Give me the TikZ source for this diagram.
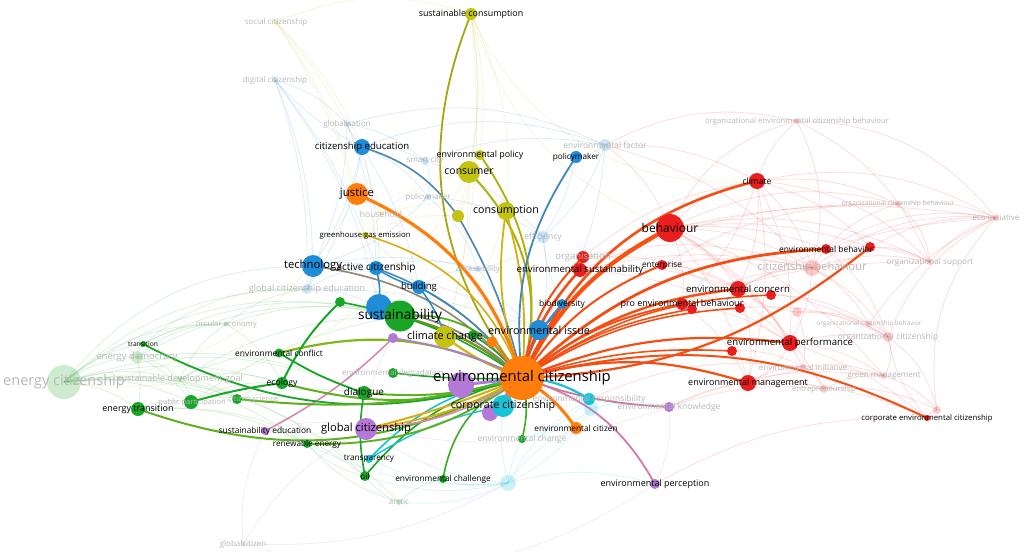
\documentclass[tikz,border=0pt]{standalone}
\usepackage{fontspec}
\setmainfont{Open Sans}
\definecolor{cO}{RGB}{255,125,10}
\definecolor{cG}{RGB}{25,165,40}
\definecolor{cB}{RGB}{30,140,215}
\definecolor{cY}{RGB}{195,195,20}
\definecolor{cR}{RGB}{235,30,30}
\definecolor{cP}{RGB}{180,120,215}
\definecolor{cC}{RGB}{25,195,215}
\tikzset{
  lab/.style={font=\fontsize{#1}{#1}\selectfont, inner sep=0pt, text=black},
  flab/.style={font=\fontsize{#1}{#1}\selectfont, inner sep=0pt, text=black!28},
  ed/.style={line width=#1pt, line cap=round},
  faint/.style={line width=0.8pt, opacity=0.15},
}
\newcommand\ND[3]{\fill[#3] (#1) circle (#2pt);}
\newcommand\FN[3]{\fill[#3, opacity=0.22] (#1) circle (#2pt);}
\begin{document}
\begin{tikzpicture}[x=1pt,y=-1pt]
\fill[white] (0,0) rectangle (1024,551);
\useasboundingbox (0,0) rectangle (1024,551);
% ---------- coordinates ----------
\coordinate (hub) at (522,378);
\coordinate (justice) at (357,194);
\coordinate (envcitizen) at (576,428);
\coordinate (orsmall) at (492,342);
\coordinate (sust) at (400,316);
\coordinate (bluesust) at (379,307);
\coordinate (climchange) at (445,337);
\coordinate (grsmall) at (473,335);
\coordinate (ecology) at (282,383);
\coordinate (dialogue) at (364,393);
\coordinate (envconflict) at (279,353);
\coordinate (entrans) at (138,409);
\coordinate (transition) at (143,344);
\coordinate (grA) at (191,402);
\coordinate (grB) at (237,399);
\coordinate (renew) at (307,444);
\coordinate (oil) at (365,476);
\coordinate (envchall) at (443,479);
\coordinate (envchange) at (522,439);
\coordinate (grC) at (340,302);
\coordinate (envdeg) at (393,373);
\coordinate (encit) at (64,382);
\coordinate (endem) at (137,357);
\coordinate (sdg) at (180,379);
\coordinate (circecon) at (226,324);
\coordinate (gce) at (307,289);
\coordinate (arctic) at (399,502);
\coordinate (globcit) at (366,429);
\coordinate (purA) at (490,413);
\coordinate (purB) at (461,385);
\coordinate (sustedu) at (265,431);
\coordinate (envperc) at (655,484);
\coordinate (envknow) at (669,407);
\coordinate (purC) at (393,338);
\coordinate (globalcitizen) at (243,544);
\coordinate (corpcit) at (503,406);
\coordinate (envresp) at (589,399);
\coordinate (transp) at (369,459);
\coordinate (cyA) at (508,483);
\coordinate (cyB) at (591,409);
\coordinate (tech) at (313,266);
\coordinate (citedu) at (362,147);
\coordinate (activecit) at (376,268);
\coordinate (building) at (419,287);
\coordinate (envissue) at (539,330);
\coordinate (biodiv) at (562,304);
\coordinate (policymaker) at (576,157);
\coordinate (globalisation) at (347,124);
\coordinate (digcit) at (275,80);
\coordinate (smartcity) at (425,161);
\coordinate (policyF) at (428,197);
\coordinate (envfactor) at (605,145);
\coordinate (efficiency) at (543,237);
\coordinate (access) at (478,269);
\coordinate (socialcit) at (276,22);
\coordinate (sustcons) at (471,14);
\coordinate (envpolicy) at (480,155);
\coordinate (consumer) at (469,172);
\coordinate (consumption) at (506,211);
\coordinate (yelA) at (458,216);
\coordinate (ghg) at (365,235);
\coordinate (household) at (381,214);
\coordinate (behaviour) at (670,228);
\coordinate (climate) at (757,181);
\coordinate (envsust) at (580,270);
\coordinate (organisation) at (583,257);
\coordinate (enterprise) at (662,265);
\coordinate (envbeh) at (826,249);
\coordinate (redX) at (870,247);
\coordinate (citbeh) at (812,268);
\coordinate (orgsupport) at (930,262);
\coordinate (ecoinit) at (996,218);
\coordinate (ocb) at (898,204);
\coordinate (oecb) at (797,121);
\coordinate (proenv) at (682,304);
\coordinate (redB) at (692,309);
\coordinate (redC) at (740,308);
\coordinate (envconcern) at (738,289);
\coordinate (redD) at (771,295);
\coordinate (envperf) at (790,343);
\coordinate (redE) at (732,351);
\coordinate (envmgmt) at (748,383);
\coordinate (corpenvcit) at (927,418);
\coordinate (ocbr) at (869,324);
\coordinate (orgcit) at (888,337);
\coordinate (envinit) at (803,367);
\coordinate (greenmgmt) at (884,376);
\coordinate (entrep) at (824,389);
\coordinate (rfA) at (937,410);
\coordinate (rfB) at (797,312);
% ---------- faint background edges ----------
\foreach \a/\b/\c in {behaviour/climate/20,behaviour/oecb/25,behaviour/citbeh/15,behaviour/ocb/20,behaviour/orgsupport/18,behaviour/envbeh/12,climate/oecb/15,climate/ocb/15,climate/ecoinit/20,climate/citbeh/15,climate/orgsupport/20,citbeh/ocb/20,citbeh/orgsupport/15,citbeh/ecoinit/20,citbeh/ocbr/15,citbeh/orgcit/15,citbeh/envperf/12,ocb/ecoinit/15,ocb/orgsupport/20,orgsupport/ecoinit/15,orgcit/ecoinit/20,orgcit/greenmgmt/25,orgcit/rfA/20,ocbr/orgcit/20,envinit/greenmgmt/15,envinit/entrep/20,entrep/greenmgmt/15,envperf/orgcit/10,envmgmt/greenmgmt/15,envmgmt/entrep/15,envconcern/citbeh/15,proenv/citbeh/12,proenv/orgsupport/10,enterprise/ocb/15,enterprise/citbeh/10,envsust/citbeh/12,envsust/ocb/12,organisation/climate/15,envconcern/ecoinit/12,oecb/ecoinit/25,oecb/orgsupport/20,oecb/citbeh/20,envbeh/ecoinit/20,redX/ecoinit/15,rfA/ecoinit/25,corpenvcit/orgcit/15,corpenvcit/rfA/20,behaviour/envinit/15,behaviour/entrep/12,behaviour/greenmgmt/15,climate/envperf/15,rfB/orgcit/15,rfB/ocbr/12,envfactor/behaviour/15,envfactor/climate/15,envfactor/oecb/20,envfactor/citbeh/15,envknow/entrep/12,envknow/greenmgmt/15,envresp/envinit/15,envperc/corpenvcit/15,behaviour/envconcern/15,behaviour/proenv/15,behaviour/envperf/15,behaviour/envmgmt/12,behaviour/redX/12,behaviour/ecoinit/10,climate/envconcern/15,climate/proenv/12,climate/redX/15,climate/envmgmt/12,envconcern/envperf/15,envconcern/orgcit/12,envconcern/envmgmt/15,proenv/envperf/12,proenv/envmgmt/15,envperf/envmgmt/20,envperf/greenmgmt/15,envperf/corpenvcit/10,envmgmt/corpenvcit/12,redX/orgsupport/15,redX/citbeh/15,enterprise/envconcern/15,enterprise/envperf/15,envsust/envperf/15,envsust/envconcern/12,organisation/citbeh/15,organisation/envconcern/15,rfB/envconcern/15,rfB/envinit/15,ocbr/ecoinit/15,envbeh/orgcit/15,envbeh/orgsupport/15,redD/ocbr/15,redC/orgcit/15,redE/envinit/15,entrep/rfA/15,greenmgmt/rfA/15,envmgmt/envinit/15,envknow/envmgmt/10}
  \draw[faint, cR] (\a) to[bend left=\c] (\b);
\foreach \a/\b/\c in {citedu/digcit/10,citedu/globalisation/10,citedu/smartcity/15,citedu/policyF/15,citedu/gce/12,citedu/tech/10,digcit/tech/10,digcit/globalisation/15,digcit/gce/10,globalisation/tech/12,globalisation/smartcity/15,smartcity/policyF/20,smartcity/envfactor/15,policyF/efficiency/15,policyF/access/15,envfactor/policymaker/15,envfactor/efficiency/15,efficiency/access/15,efficiency/envissue/12,tech/gce/15,tech/activecit/15,tech/access/12,gce/activecit/15,gce/bluesust/12,activecit/access/15,building/access/15,citedu/envfactor/20,globalisation/envfactor/20,digcit/bluesust/12,policymaker/efficiency/10,biodiv/efficiency/10,envissue/access/10,citedu/bluesust/8,citedu/building/10,globalisation/activecit/10,smartcity/efficiency/15,policyF/tech/15,envfactor/envissue/15,digcit/activecit/10,tech/envissue/12,gce/envissue/10}
  \draw[faint, cB] (\a) to[bend left=\c] (\b);
\foreach \a/\b/\c in {encit/endem/15,encit/sdg/15,encit/transition/15,encit/entrans/15,encit/grA/15,encit/grB/15,encit/circecon/20,encit/gce/20,encit/ecology/15,encit/renew/20,encit/oil/25,encit/arctic/25,endem/sdg/15,endem/transition/15,endem/grA/15,endem/circecon/20,endem/entrans/10,sdg/grA/15,sdg/grB/15,sdg/circecon/15,sdg/ecology/15,transition/circecon/15,transition/gce/20,entrans/grA/15,entrans/renew/15,grA/grB/15,grA/ecology/15,grB/ecology/15,circecon/gce/15,circecon/ecology/15,arctic/oil/15,arctic/renew/15,arctic/envchall/15,oil/renew/15,encit/tech/25,encit/sust/25,endem/sust/20,sdg/sust/15,circecon/sust/15,encit/dialogue/20,endem/dialogue/15,sdg/envconflict/12,transition/sust/20,grA/sust/12,grB/dialogue/10,sustedu/renew/12,entrans/oil/20}
  \draw[faint, cG] (\a) to[bend left=\c] (\b);
\foreach \a/\b/\c in {socialcit/citedu/10,socialcit/justice/10,socialcit/household/12,socialcit/sustcons/20,socialcit/ghg/10,sustcons/consumer/10,sustcons/envpolicy/10,sustcons/consumption/15,sustcons/climate/-35,sustcons/behaviour/-25,household/ghg/15,household/consumer/15,household/consumption/15,ghg/climchange/15,ghg/yelA/15,justice/household/15,encit/justice/-30,encit/consumer/-35,consumer/yelA/15,consumption/climchange/10,envpolicy/consumption/15,sustcons/yelA/12,sustcons/climchange/10,consumer/climchange/8}
  \draw[faint, cY] (\a) to[bend left=\c] (\b);
\foreach \a/\b/\c in {cyA/transp/15,cyA/envchall/15,cyA/envchange/10,cyA/envresp/15,cyA/corpcit/10,cyA/envcitizen/15,cyA/oil/15,cyA/arctic/15,cyA/envperc/15,cyB/envresp/10,cyB/envchange/15,cyB/cyA/15,cyB/envknow/15,envresp/envchange/15,cyA/globcit/15,cyA/renew/15}
  \draw[faint, cC] (\a) to[bend left=\c] (\b);
\foreach \a/\b/\c in {globalcitizen/sustedu/15,globalcitizen/globcit/15,globalcitizen/envperc/-25,globalcitizen/cyA/-15,globcit/envknow/-15,sustedu/globcit/15,envknow/envperc/15,globcit/purC/15}
  \draw[faint, cP] (\a) to[bend left=\c] (\b);
% ---------- strong edges ----------
\draw[ed=1.6, cB!55!gray] (citedu) to[bend left=18] (yelA);
\draw[ed=1.6, cB!55!gray] (yelA) to[bend left=8] (hub);
\draw[ed=1.8, cY!85!black] (hub) to[bend left=30] (sustcons);
\draw[ed=2.0, cY!90!black] (hub) to[bend right=30] (consumer);
\draw[ed=1.8, cY!90!black] (hub) to[bend right=24] (envpolicy);
\draw[ed=1.8, cY!80!cO] (hub) to[bend left=14] (consumption);
\draw[ed=1.8, cY!70!cO] (hub) to[bend right=10] (consumption);
\draw[ed=1.8, cB!65!gray] (hub) to[bend left=20] (policymaker);
\draw[ed=3.2, cO] (hub) to[bend right=24] (justice);
\draw[ed=1.6, cY!70!cO] (hub) to[bend right=26] (ghg);
\draw[ed=1.6, cB!50!cO] (hub) to[bend right=20] (tech);
\draw[ed=1.5, cB!55!gray] (hub) to[bend right=16] (activecit);
\draw[ed=1.5, cB!55!gray] (hub) to[bend right=12] (building);
\draw[ed=1.5, cB] (activecit) to[bend right=10] (building);
\draw[ed=1.5, cB] (activecit) to[bend left=10] (bluesust);
\draw[ed=1.5, cB] (building) to[bend left=10] (climchange);
\draw[ed=2.4, cG!60!cO] (hub) to[bend right=12] (sust);
\draw[ed=1.8, cG!70!cY] (sust) to[bend left=20] (orsmall);
\draw[ed=1.8, cB!55!cO] (hub) to[bend right=16] (bluesust);
\draw[ed=2.2, cY!75!cO] (hub) to[bend left=8] (climchange);
\draw[ed=1.6, cG] (hub) to[bend right=8] (grsmall);
\draw[ed=2.2, cO] (hub) to (orsmall);
\draw[ed=2.6, cB!80!cO] (hub) to[bend left=8] (envissue);
\draw[ed=1.6, cB!80!gray] (envissue) to[bend right=10] (biodiv);
\draw[ed=1.4, cB!80!gray] (hub) to[bend left=14] (biodiv);
% red side
\draw[ed=4.2, cR!45!cO] (hub) to[bend left=18] (behaviour);
\draw[ed=2.6, cR!50!cO] (hub) to[bend left=26] (climate);
\draw[ed=2.6, cR!50!cO] (hub) to[bend left=14] (envsust);
\draw[ed=2.0, cR!50!cO] (hub) to[bend left=18] (organisation);
\draw[ed=2.0, cR!50!cO] (envsust) to (organisation);
\draw[ed=2.0, cR!50!cO] (hub) to[bend left=16] (enterprise);
\draw[ed=2.8, cR!50!cO] (hub) to[bend left=20] (envbeh);
\draw[ed=2.2, cR!50!cO] (hub) to[bend right=18] (redX);
\draw[ed=2.0, cR!50!cO] (hub) to[bend left=14] (proenv);
\draw[ed=1.6, cR!50!cO] (hub) to[bend left=12] (redB);
\draw[ed=1.6, cR!50!cO] (hub) to[bend left=14] (redC);
\draw[ed=2.4, cR!50!cO] (hub) to[bend left=16] (envconcern);
\draw[ed=1.6, cR!50!cO] (hub) to[bend left=16] (redD);
\draw[ed=2.2, cR!50!cO] (hub) to[bend left=14] (envperf);
\draw[ed=1.6, cR!50!cO] (hub) to[bend left=10] (redE);
\draw[ed=2.2, cR!50!cO] (hub) to[bend left=16] (envmgmt);
\draw[ed=2.0, cR!50!cO] (hub) to[bend left=20] (corpenvcit);
\draw[ed=1.8, cR!35!cP!80!white] (hub) to[bend left=22] (envperc);
\draw[ed=1.8, cP!70!cO] (hub) to[bend right=8] (envknow);
\draw[ed=3.0, cO] (hub) to[bend left=12] (envcitizen);
\draw[ed=3.2, cC!55!cO] (hub) to (corpcit);
\draw[ed=2.2, cC] (hub) to[bend left=14] (envresp);
% lower / left side
\draw[ed=1.6, cG!80!cY] (hub) to[bend right=28] (envchall);
\draw[ed=1.6, cG!80!cY] (hub) to[bend left=14] (envchange);
\draw[ed=1.6, cG] (hub) to[bend right=18] (oil);
\draw[ed=1.6, cC] (hub) to[bend right=18] (transp);
\draw[ed=1.4, cC] (transp) to[bend left=10] (corpcit);
\draw[ed=1.9, cG!60!cY] (hub) to[bend left=18] (renew);
\draw[ed=2.0, cG!60!cY] (hub) to[bend left=24] (entrans);
\draw[ed=1.8, cY!70!cO] (hub) to[bend left=10] (globcit);
\draw[ed=2.0, cY!70!cO] (hub) to[bend left=4] (globcit);
\draw[ed=3.0, cP] (hub) to (purA);
\draw[ed=3.0, cP] (hub) to (purB);
\draw[ed=1.6, cP!70!red!70!white] (sustedu) to[bend right=8] (purC);
\draw[ed=1.6, cP!70!red!70!white] (globcit) to[bend right=14] (hub);
\draw[ed=2.0, cG!60!cY] (hub) to[bend left=10] (dialogue);
\draw[ed=2.0, cG!60!cY] (hub) to[bend left=16] (ecology);
\draw[ed=2.2, cY!60!cG] (hub) to[bend right=20] (envconflict);
\draw[ed=1.8, cG] (envconflict) to[bend right=6] (dialogue);
\draw[ed=1.8, cG] (hub) to[bend left=22] (transition);
\draw[ed=2.0, cG] (grA) to[bend left=4] (ecology);
\draw[ed=2.0, cG] (ecology) to[bend left=10] (grC);
\draw[ed=2.0, cG!60!cY] (hub) to[bend left=10] (grB);
\draw[ed=1.6, cG] (hub) to[bend right=12] (grC);
\draw[ed=1.6, cG] (hub) to[bend left=4] (envdeg);
\draw[ed=1.6, cP] (hub) to[bend right=8] (purC);
\draw[ed=1.6, cG] (oil) to[bend left=10] (dialogue);
% ---------- faded nodes ----------
\FN{encit}{17}{cG}
\FN{endem}{6}{cG}
\FN{sdg}{3}{cG}
\FN{circecon}{2.5}{cG}
\FN{gce}{5}{cB}
\FN{arctic}{3}{cG}
\FN{globalcitizen}{2.5}{cP}
\FN{cyA}{8}{cC}
\FN{cyB}{7}{cC}
\FN{globalisation}{3}{cB}
\FN{digcit}{3}{cB}
\FN{smartcity}{4}{cB}
\FN{policyF}{3}{cB}
\FN{envfactor}{6}{cB}
\FN{efficiency}{6}{cB}
\FN{access}{3}{cB}
\FN{socialcit}{3}{cY}
\FN{household}{3}{cY}
\FN{citbeh}{8}{cR}
\FN{orgsupport}{3}{cR}
\FN{ecoinit}{3}{cR}
\FN{ocb}{3}{cR}
\FN{oecb}{3}{cR}
\FN{ocbr}{3}{cR}
\FN{orgcit}{5}{cR}
\FN{envinit}{3}{cR}
\FN{greenmgmt}{3}{cR}
\FN{entrep}{4}{cR}
\FN{rfA}{4}{cR}
\FN{rfB}{5}{cR}
% ---------- strong nodes ----------
\ND{hub}{22}{cO}
\ND{justice}{11}{cO}
\ND{envcitizen}{6}{cO}
\ND{orsmall}{5.5}{cO}
\ND{bluesust}{13}{cB}
\ND{sust}{15.5}{cG}
\ND{climchange}{11}{cY}
\ND{grsmall}{5}{cG}
\ND{ecology}{6}{cG}
\ND{dialogue}{7}{cG}
\ND{envconflict}{4.5}{cG}
\ND{entrans}{7}{cG}
\ND{transition}{3}{cG}
\ND{grA}{7}{cG}
\ND{grB}{5}{cG}
\ND{renew}{4}{cG}
\ND{oil}{5}{cG}
\ND{envchall}{4}{cG}
\ND{envchange}{4}{cG}
\ND{grC}{5}{cG}
\ND{envdeg}{5}{cG}
\ND{globcit}{11}{cP}
\ND{purB}{13}{cP}
\ND{purA}{8}{cP}
\ND{sustedu}{4}{cP}
\ND{envperc}{5}{cP}
\ND{envknow}{5}{cP}
\ND{purC}{5}{cP}
\ND{corpcit}{11}{cC}
\ND{envresp}{6}{cC}
\ND{transp}{4}{cC}
\ND{tech}{11}{cB}
\ND{citedu}{8}{cB}
\ND{activecit}{7}{cB}
\ND{building}{7}{cB}
\ND{envissue}{10}{cB}
\ND{biodiv}{5}{cB}
\ND{policymaker}{6}{cB}
\ND{sustcons}{6}{cY}
\ND{envpolicy}{5}{cY}
\ND{consumer}{11}{cY}
\ND{consumption}{9}{cY}
\ND{yelA}{6}{cY}
\ND{ghg}{3}{cY}
\ND{behaviour}{14}{cR}
\ND{climate}{8}{cR}
\ND{envsust}{7}{cR}
\ND{organisation}{6}{cR}
\ND{enterprise}{5}{cR}
\ND{envbeh}{5}{cR}
\ND{redX}{5}{cR}
\ND{proenv}{6}{cR}
\ND{redB}{5}{cR}
\ND{redC}{5}{cR}
\ND{envconcern}{8}{cR}
\ND{redD}{5}{cR}
\ND{envperf}{8}{cR}
\ND{redE}{5}{cR}
\ND{envmgmt}{8}{cR}
\ND{corpenvcit}{3}{cR}
% ---------- faded labels ----------
\node[flab=14.5] (Lencit) at (encit) {energy citizenship};
\node[flab=9.5] (Lendem) at (endem) {energy democracy};
\node[flab=9] (Lsdg) at (sdg) {sustainable development goal};
\node[flab=7.7] (Lcircecon) at (circecon) {circular economy};
\node[flab=9] (Lgce) at (gce) {global citizenship education};
\node[flab=7.5, anchor=east] (Lpubpart) at (226,403) {public participation};
\node[flab=7.5, anchor=west] (Lcitsci) at (228,399) {citizen science};
\node[flab=8] (Larctic) at (arctic) {arctic};
\node[flab=8] (Lglobalcitizen) at (globalcitizen) {globalcitizen};
\node[flab=8] (Lenvdeg) at (envdeg) {environmental degradation};
\node[flab=8.5] (Lenvchange) at (envchange) {environmental change};
\node[flab=8.5] (Lenvresp) at (envresp) {environmental responsibility};
\node[flab=8.5] (Lenvknow) at (envknow) {environmental knowledge};
\node[flab=8] (Lglobalisation) at (globalisation) {globalisation};
\node[flab=8] (Ldigcit) at (digcit) {digital citizenship};
\node[flab=8] (Lsocialcit) at (socialcit) {social citizenship};
\node[flab=8] (Lsmartcity) at (smartcity) {smart city};
\node[flab=8] (LpolicyF) at (policyF) {policymaker};
\node[flab=8.5] (Lenvfactor) at (envfactor) {environmental factor};
\node[flab=8.5] (Lefficiency) at (efficiency) {efficiency};
\node[flab=8] (Laccess) at (access) {accessibility};
\node[flab=8.5] (Lhousehold) at (household) {household};
\node[flab=9.5] (Lorganisation) at (organisation) {organisation};
\node[flab=11] (Lcitbeh) at (citbeh) {citizenship behaviour};
\node[flab=8.2] (Lorgsupport) at (orgsupport) {organizational support};
\node[flab=8] (Lecoinit) at (ecoinit) {eco initiative};
\node[flab=6.7] (Locb) at (ocb) {organizational citizenship behaviour};
\node[flab=7.7] (Loecb) at (oecb) {organizational environmental citizenship behaviour};
\node[flab=6.5] (Locbr) at (ocbr) {organizational citizenship behavior};
\node[flab=8.5] (Lorgcit) at (orgcit) {organizational citizenship};
\node[flab=8] (Lenvinit) at (envinit) {environmental initiative};
\node[flab=8] (Lgreenmgmt) at (greenmgmt) {green management};
\node[flab=7.8] (Lentrep) at (entrep) {entrepreneurship};
% ---------- labels ----------
\node[lab=14.8] (Lhub) at (hub) {environmental citizenship};
\node[lab=11.4] (Ljustice) at (justice) {justice};
\node[lab=8.3] (Lenvcitizen) at (envcitizen) {environmental citizen};
\node[lab=13.7] (Lsust) at (sust) {sustainability};
\node[lab=10.8] (Lclimchange) at (climchange) {climate change};
\node[lab=8.7] (Lecology) at (ecology) {ecology};
\node[lab=10] (Ldialogue) at (dialogue) {dialogue};
\node[lab=8.4] (Lenvconflict) at (envconflict) {environmental conflict};
\node[lab=9] (Lentrans) at (entrans) {energy transition};
\node[lab=6.7] (Ltransition) at (transition) {transition};
\node[lab=8.2] (Lrenew) at (renew) {renewable energy};
\node[lab=8.2] (Loil) at (oil) {oil};
\node[lab=8.3] (Lenvchall) at (envchall) {environmental challenge};
\node[lab=11.2] (Lglobcit) at (globcit) {global citizenship};
\node[lab=8.4] (Lsustedu) at (sustedu) {sustainability education};
\node[lab=9] (Lenvperc) at (envperc) {environmental perception};
\node[lab=10.7] (Lcorpcit) at (corpcit) {corporate citizenship};
\node[lab=8.2] (Ltransp) at (transp) {transparency};
\node[lab=11.3] (Ltech) at (tech) {technology};
\node[lab=9.6] (Lcitedu) at (citedu) {citizenship education};
\node[lab=10] (Lactivecit) at (activecit) {active citizenship};
\node[lab=9.5] (Lbuilding) at (building) {building};
\node[lab=10.8] (Lenvissue) at (envissue) {environmental issue};
\node[lab=8.5] (Lbiodiv) at (biodiv) {biodiversity};
\node[lab=8.2] (Lpolicymaker) at (policymaker) {policymaker};
\node[lab=8.9] (Lsustcons) at (sustcons) {sustainable consumption};
\node[lab=8.9] (Lenvpolicy) at (envpolicy) {environmental policy};
\node[lab=10.5] (Lconsumer) at (consumer) {consumer};
\node[lab=10.7] (Lconsumption) at (consumption) {consumption};
\node[lab=7.7] (Lghg) at (ghg) {greenhouse gas emission};
\node[lab=12] (Lbehaviour) at (behaviour) {behaviour};
\node[lab=8.5] (Lclimate) at (climate) {climate};
\node[lab=9.6] (Lenvsust) at (envsust) {environmental sustainability};
\node[lab=8.3] (Lenterprise) at (enterprise) {enterprise};
\node[lab=8.4] (Lenvbeh) at (envbeh) {environmental behavior};
\node[lab=9] (Lproenv) at (proenv) {pro environmental behaviour};
\node[lab=9.6] (Lenvconcern) at (envconcern) {environmental concern};
\node[lab=9.6] (Lenvperf) at (envperf) {environmental performance};
\node[lab=9] (Lenvmgmt) at (envmgmt) {environmental management};
\node[lab=7.8] (Lcorpenvcit) at (corpenvcit) {corporate environmental citizenship};
\end{tikzpicture}
\end{document}
